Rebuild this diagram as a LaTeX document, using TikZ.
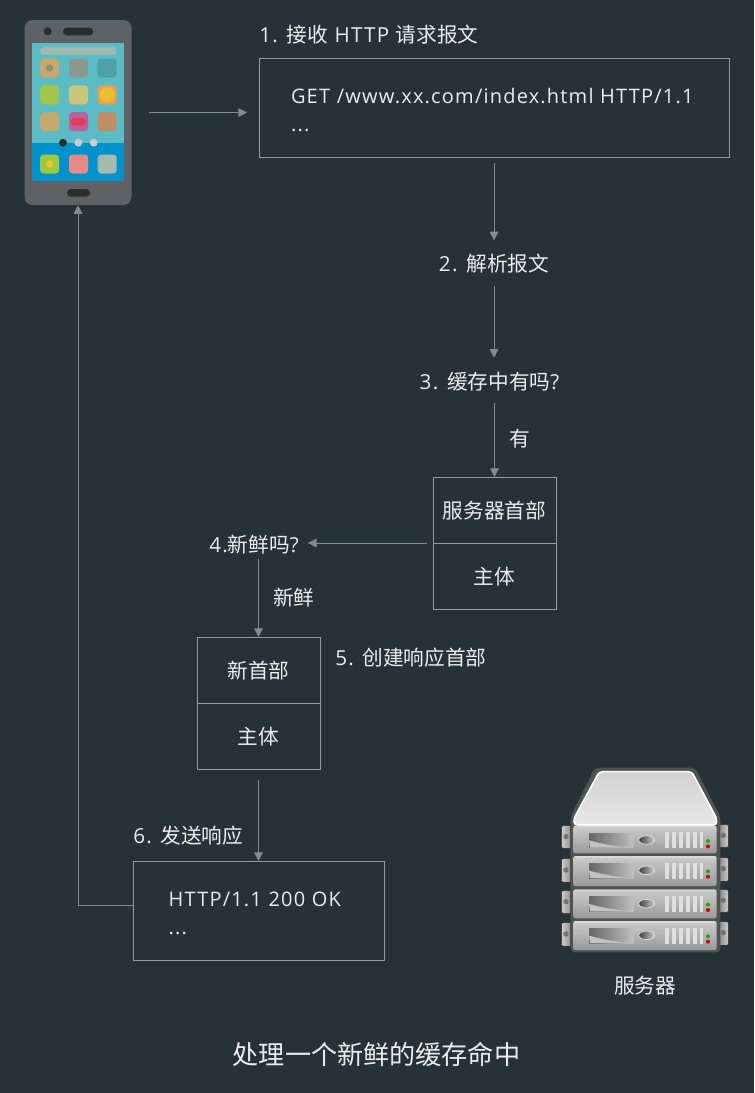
\documentclass[tikz,border=0pt]{standalone}
\usepackage{fontspec}
\setmainfont{Noto Sans CJK SC}
\newfontfamily\latfont{Open Sans}[LetterSpace=6]
\newcommand{\lat}[1]{{\latfont #1}}
\usetikzlibrary{arrows.meta,positioning,calc}
\definecolor{cdnBack}{RGB}{39,50,56}
\definecolor{cdnLine}{RGB}{150,155,157}
\definecolor{cdnText}{RGB}{235,237,237}
\definecolor{phoneBody}{RGB}{95,98,100}
\definecolor{phoneDark}{RGB}{42,44,46}
\definecolor{phoneScreen}{RGB}{91,188,198}
\definecolor{phoneDock}{RGB}{0,146,204}
\definecolor{srvEdge}{RGB}{78,84,82}

\begin{document}
\begin{tikzpicture}[x=.75pt,y=-.75pt,
      label/.style={text=cdnText,font=\fontsize{15.5}{18}\selectfont,inner sep=0pt,minimum height=16.5pt,
                    text height=13pt,text depth=1pt},
      cell/.style={draw=cdnLine,line width=.75pt,label,minimum width=92.25pt,minimum height=49.5pt,outer sep=0pt},
      msg/.style={draw=cdnLine,line width=.75pt,text=cdnText,font=\fontsize{15}{21}\selectfont\latfont,align=left,
                  inner sep=0pt,outer sep=0pt},
      arr/.style={-{Triangle[length=6.5pt,width=6.5pt]},line width=.75pt,cdnLine!90!black},
      icon/.style={rounded corners=2.5pt,minimum size=14.25pt,inner sep=0pt,node contents={}}]
    \fill[cdnBack] (0,0) rectangle (754,1093);

    % phone
    \node[fill=phoneBody,rounded corners=6pt,minimum width=80.25pt,minimum height=138.75pt,inner sep=0pt] (phone) at (78,112.5) {};
    \fill[phoneDark] (47.7,31.3) circle (4);
    \fill[phoneDark,rounded corners=2.8pt] (63,27.7) rectangle (93.3,35.3);
    \fill[phoneDark,rounded corners=2.8pt] (67,189) rectangle (90,196.7);
    \fill[phoneScreen] (32.3,42.7) rectangle (124.3,142.7);
    \fill[phoneDock] (32.3,142.7) rectangle (124.3,181);
    \fill[fill={rgb,255:red,160;green,188;blue,175},rounded corners=2.8pt] (40,47) rectangle (116.7,54.7);
    \foreach \cx/\cy/\rr/\gg/\bb in {49.7/68/199/169/107,78.5/68/138/154/143,107.2/68/79/160/171,
        49.7/94.8/160/197/72,78.5/94.8/201/198/123,107.2/94.8/233/161/79,
        49.7/121.7/196/169/110,78.5/121.7/185/98/158,107.2/121.7/190/143/102,
        49.7/164/158/200/63,78.5/164/229/139/135,107.2/164/162/187/174}{
      \definecolor{iconFill}{RGB}{\rr,\gg,\bb}
      \node[icon,fill=iconFill,at={(\cx,\cy)}];
    }
    \fill[fill={rgb,255:red,138;green,143;blue,124}] (49.7,68) circle (3.7);
    \fill[fill={rgb,255:red,235;green,192;blue,47}] (107.2,94.8) circle (7.5);
    \fill[fill={rgb,255:red,228;green,59;blue,88},rounded corners=2.5pt] (71,118) rectangle (86,125.5);
    \fill[fill={rgb,255:red,240;green,192;blue,46}] (49.7,164) circle (3.7);
    \fill[phoneDark] (63,142.7) circle (3.9);
    \fill[black!20] (78.3,142.7) circle (3.9) (93.7,142.7) circle (3.9);

    % request side
    \node[label,right] (recv) at (259,34) {\lat{1. }接收\lat{ HTTP }请求报文};
    \node[msg,minimum width=352.5pt,minimum height=74.25pt,text width=304.5pt] (reqbox) at (494,107.5)
      {\rule{0pt}{15pt}GET /www.xx.com/index.html HTTP/1.1\\...};
    \node[label] (parse) at (494,263) {\lat{2. }解析报文};
    \node[label] (cached) at (489.5,381) {\lat{3. }缓存中有吗\lat{?}};
    \node[cell] (srvhead) at (494.5,510) {服务器首部};
    \node[cell,below=0pt of srvhead] (srvbody) {主体};
    \node[label] (fresh) at (254,544) {\lat{4.}新鲜吗\lat{?}};
    \node[cell] (newhead) at (258.5,670) {新首部};
    \node[cell,below=0pt of newhead] (newbody) {主体};
    \node[label,right] (build) at (335,657) {\lat{5. }创建响应首部};
    \node[label,right] (send) at (133,835) {\lat{6. }发送响应};
    \node[msg,minimum width=188.25pt,minimum height=74.25pt,text width=135.5pt] (reply) at (259,910.5)
      {\rule{0pt}{15pt}HTTP/1.1 200 OK\\...};

    \draw[arr,shorten <=12.75pt,shorten >=9pt] (phone.east) -- (phone.east -| reqbox.west);
    \draw[arr,shorten <=4.5pt,shorten >=8.5pt] (reqbox.south) -- (parse.north);
    \draw[arr,shorten <=8.5pt,shorten >=9pt] (parse.south) -- (cached.north -| parse);
    \draw[arr,shorten <=8pt] (cached.south -| srvhead) -- node[pos=.54,right=10.5pt,label]{有} (srvhead.north);
    \draw[arr,shorten <=4.5pt,shorten >=6.75pt] (srvhead.south west) -- (srvhead.south west -| fresh.east);
    \draw[arr,shorten <=2.5pt] (fresh.south -| newhead) -- node[pos=.52,right=10.5pt,label]{新鲜} (newhead.north);
    \draw[arr,shorten <=8.25pt] (newbody.south) -- (reply.north -| newbody);
    \draw[arr] ([yshift=4.1pt]reply.west) -| (phone.south);

    % server
    \begin{scope}[shift={(550,755)},x=.25pt,y=-.25pt]
      \foreach \ey in {213,313,408,505}{
        \fill[black!75,rounded corners=1pt] (33,\ey-3) rectangle (64,\ey+69);
        \fill[black!75,rounded corners=1pt] (506,\ey-6) rectangle (537,\ey+66);
        \fill[left color=gray!45,right color=gray!85] (38,\ey) rectangle (60,\ey+65);
        \fill[left color=gray!85,right color=gray!45] (510,\ey-3) rectangle (532,\ey+62);
        \fill[black!55] (48,\ey+32) circle (8) (520,\ey+28) circle (8);
      }
      \fill[srvEdge,rounded corners=3pt] (135,38)--(435,38)--(511,185)--(511,592)--(62,592)--(62,185)--cycle;
      \shade[top color=black!18,bottom color=black!9,draw=white,line width=1.2pt,rounded corners=2.5pt]
        (148,50)--(425,50)--(500,190)--(500,210)--(72,210)--(72,190)--cycle;
      \foreach \uy/\uh in {212/83,303/90,403/87,498/87}{
        \shade[top color=black!20,bottom color=black!40,rounded corners=1.5pt] (70,\uy) rectangle (500,\uy+\uh);
        \draw[white!85!black,line width=.8pt] (74,\uy+3) -- (496,\uy+3);
        \shade[left color=black!60,right color=black!25] (117,\uy+22) rectangle (250,\uy+66);
        \fill[black!24] (117,\uy+44) .. controls (170,\uy+58) and (210,\uy+64) .. (245,\uy+66) -- (120,\uy+66) -- cycle;
        \shade[left color=black!75,right color=black!20,draw=black!15,line width=.6pt] (290,\uy+43) ellipse (24 and 13);
        \foreach \vx in {345,366,387,408,429,449}
          \fill[black!12] (\vx,\uy+20) rectangle (\vx+11,\uy+68);
        \fill[green!65!black!90!yellow] (474,\uy+46) circle (6);
        \fill[red!85!black] (474,\uy+62) circle (6);
      }
    \end{scope}
    \node[label] (srvname) at (645,985) {服务器};
    \node[text=cdnText,font=\fontsize{19.6}{24}\selectfont,inner sep=0pt] (title) at (376.5,1054) {处理一个新鲜的缓存命中};
  \end{tikzpicture}
\end{document}
